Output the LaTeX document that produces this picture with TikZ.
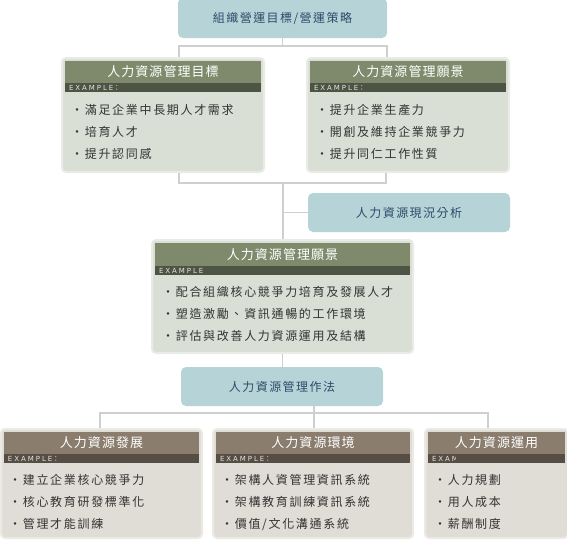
\documentclass[tikz,border=0pt]{standalone}
\usepackage{fontspec}
\setmainfont{Noto Sans CJK TC}
\newfontfamily\cjkplain{Noto Sans CJK TC}
\newfontfamily\itemfont[LetterSpace=14]{Noto Sans CJK TC}
\newfontfamily\headfont[LetterSpace=8]{Noto Sans CJK TC}
\newfontfamily\platefont[LetterSpace=12]{Noto Sans CJK TC}
\newfontfamily\tagfont[LetterSpace=28]{DejaVu Sans}
\usetikzlibrary{positioning,calc}
\definecolor{Line}{HTML}{CFCFCF}
\definecolor{Teal}{HTML}{B6D4D8}
\definecolor{Navy}{HTML}{2D4A6A}
\definecolor{Sage}{HTML}{DADFD6}
\definecolor{SageRim}{HTML}{E9ECE6}
\definecolor{Olive}{HTML}{7E8A6B}
\definecolor{OliveDark}{HTML}{4E5443}
\definecolor{Sand}{HTML}{E0DDD6}
\definecolor{SandRim}{HTML}{ECEAE5}
\definecolor{Taupe}{HTML}{8B7D6E}
\definecolor{TaupeDark}{HTML}{564D44}
\definecolor{Ink}{HTML}{333333}

\begin{document}
\begin{tikzpicture}[x=1pt,y=-1pt,
  link/.style={draw=Line,line width=1.5pt},
  plate/.style={rectangle,rounded corners=5pt,fill=Teal,text=Navy,inner sep=0pt,
    minimum width=202pt,minimum height=39pt,font=\platefont\fontsize{12}{14}\selectfont},
  sagecard/.style={rectangle,rounded corners=4pt,fill=Sage,draw=SageRim,line width=2pt,inner sep=0pt},
  sandcard/.style={rectangle,rounded corners=4pt,fill=Sand,draw=SandRim,line width=2pt,inner sep=0pt},
  sagehead/.style={rectangle,fill=Olive,text=white,inner sep=0pt,minimum height=22pt,
    font=\headfont\fontsize{13}{15}\selectfont},
  sandhead/.style={sagehead,fill=Taupe},
  sagebar/.style={rectangle,fill=OliveDark,inner sep=0pt,minimum height=9pt},
  sandbar/.style={sagebar,fill=TaupeDark},
  tag/.style={inner sep=0pt,text=white!90!black,font=\tagfont\fontsize{7}{7}\selectfont},
  items/.style={anchor=west,align=left,inner sep=0pt,text=Ink,font=\itemfont\fontsize{12}{22}\selectfont}]
\clip (0,0) rectangle (567,542);
\fill[white] (0,0) rectangle (567,542);

\node[plate,minimum width=209pt,minimum height=40pt] (goal) at (282.5,18) {組織營運目標/營運策略};

\node[sagecard,minimum width=202pt,minimum height=114pt] (aim) at (163,115) {};
\node[sagehead,minimum width=196pt] (aimhead) at (163,72) {人力資源管理目標};
\node[sagebar,minimum width=196pt] (aimbar) at (163,87.5) {};
\node[tag,right=4pt of aimbar.west] {EXAMPLE{\cjkplain ：}};
\node[items] (aimlist) at (71,132) {・滿足企業中長期人才需求\\・培育人才\\・提升認同感};

\node[sagecard,minimum width=202pt,minimum height=114pt] (vis) at (408,115) {};
\node[sagehead,minimum width=196pt] (vishead) at (408,72) {人力資源管理願景};
\node[sagebar,minimum width=196pt] (visbar) at (408,87.5) {};
\node[tag,right=4pt of visbar.west] {EXAMPLE{\cjkplain ：}};
\node[items] (vislist) at (316,132) {・提升企業生產力\\・開創及維持企業競爭力\\・提升同仁工作性質};

\node[plate] (scan) at (409,212.5) {人力資源現況分析};

\node[sagecard,minimum width=261pt,minimum height=113pt] (core) at (282.5,296.5) {};
\node[sagehead,minimum width=255pt,minimum height=23pt] (corehead) at (282.5,254.5) {人力資源管理願景};
\node[sagebar,minimum width=255pt] (corebar) at (282.5,270.5) {};
\node[tag,right=4pt of corebar.west] {EXAMPLE};
\node[items] (corelist) at (162,314) {・配合組織核心競爭力培育及發展人才\\・塑造激勵、資訊通暢的工作環境\\・評估與改善人力資源運用及結構};

\node[plate] (method) at (282,386.5) {人力資源管理作法};

\node[sandcard,minimum width=201pt,minimum height=109pt] (grow) at (101.5,483.5) {};
\node[sandhead,minimum width=195pt] (growhead) at (101.5,443) {人力資源發展};
\node[sandbar,minimum width=195pt] (growbar) at (101.5,458.5) {};
\node[tag,right=4pt of growbar.west] {EXAMPLE{\cjkplain ：}};
\node[items] (growlist) at (9,502) {・建立企業核心競爭力\\・核心教育研發標準化\\・管理才能訓練};

\node[sandcard,minimum width=200pt,minimum height=109pt] (env) at (313,483.5) {};
\node[sandhead,minimum width=194pt] (envhead) at (313,443) {人力資源環境};
\node[sandbar,minimum width=194pt] (envbar) at (313,458.5) {};
\node[tag,right=4pt of envbar.west] {EXAMPLE{\cjkplain ：}};
\node[items] (envlist) at (221,502) {・架構人資管理資訊系統\\・架構教育訓練資訊系統\\・價值/文化溝通系統};

\node[sandcard,minimum width=143pt,minimum height=109pt] (use) at (496.5,483.5) {};
\node[sandhead,minimum width=137pt] (usehead) at (496.5,443) {人力資源運用};
\node[sandbar,minimum width=137pt] (usebar) at (496.5,458.5) {};
\begin{scope}
  \clip (428,454) rectangle (455,463);
  \node[tag,right=4pt of usebar.west] {EXAMPLE{\cjkplain ：}};
\end{scope}
\node[items] (uselist) at (434,502) {・人力規劃\\・用人成本\\・薪酬制度};

\coordinate (ja) at (179,46);
\coordinate (jb) at (387,46);
\coordinate (jc) at (179,183);
\coordinate (jd) at (386,183);
\coordinate (je) at (283,183);
\coordinate (jf) at (100,413);
\coordinate (jg) at (314,413);
\coordinate (jh) at (488,413);

\draw[link] (goal.south) -- (goal.south |- ja);
\draw[link] (ja |- aim.north) -- (ja) -- (jb) -- (jb |- vis.north);
\draw[link] (jc |- aim.south) -- (jc) -- (jd) -- (jd |- vis.south);
\draw[link] (je) -- (je |- core.north);
\draw[link] (je |- scan.west) -- (scan.west);
\draw[link] (core.south) -- (core.south |- method.north);
\draw[link] (jg |- method.south) -- (jg);
\draw[link] (jf |- grow.north) -- (jf) -- (jh) -- (jh |- use.north);
\draw[link] (jg) -- (jg |- env.north);
\end{tikzpicture}
\end{document}
